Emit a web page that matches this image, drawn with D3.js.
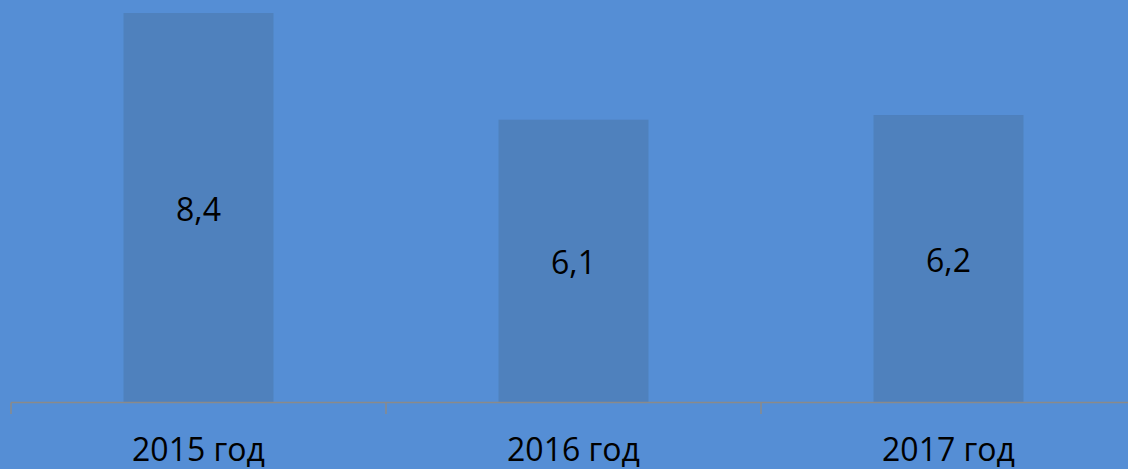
<!DOCTYPE html>
<html>
<head>
<meta charset="utf-8">
<script src="https://cdn.jsdelivr.net/npm/d3@7"></script>
<style>
  body { margin: 0; background: #558ed5; }
  svg { display: block; }
</style>
</head>
<body>
<div class="infographic"></div>
<script>
var categories = ["2015 год", "2016 год", "2017 год"];
var values = [8.4, 6.1, 6.2];
var labels = ["8,4", "6,1", "6,2"];

var width = 1128, height = 469;

var svg = d3.select(".infographic")
            .append("svg")
            .attr("width", width)
            .attr("height", height);

svg.append("rect")
    .attr("width", width)
    .attr("height", height)
    .attr("fill", "#558ed5");

var x = d3.scaleBand()
    .domain(categories)
    .range([11, 1136])
    .paddingInner(0.6)
    .paddingOuter(0.3);

var y = d3.scaleLinear()
    .domain([0, 8.4])
    .range([402.5, 13]);

var data = categories.map(function(c, i){
  return {cat: c, value: values[i], label: labels[i]};
});

svg.append("g")
    .attr("class", "bars")
  .selectAll("rect")
    .data(data)
  .enter().append("rect")
    .attr("x", function(d){ return x(d.cat); })
    .attr("y", function(d){ return y(d.value); })
    .attr("width", x.bandwidth())
    .attr("height", function(d){ return y(0) - y(d.value); })
    .attr("fill", "#4f81bd");

// value labels in the middle of each bar
svg.append("g")
  .selectAll("text")
    .data(data)
  .enter().append("text")
    .attr("x", function(d){ return x(d.cat) + x.bandwidth() / 2; })
    .attr("y", function(d){ return (y(d.value) + y(0)) / 2; })
    .attr("dy", "0.4em")
    .attr("text-anchor", "middle")
    .style("font-family", "'Open Sans', sans-serif")
    .style("font-size", "32px")
    .style("fill", "#000")
    .text(function(d){ return d.label; });

// category axis: line plus ticks at band boundaries
var axisY = 402.5;
var step = x.step();
var bounds = [0, 1, 2].map(function(i){ return 11 + i * step; });

svg.append("line")
    .attr("x1", 11).attr("x2", width)
    .attr("y1", axisY).attr("y2", axisY)
    .attr("stroke", "#8a8a8a")
    .attr("stroke-width", 1.5);

svg.append("g")
  .selectAll("line")
    .data(bounds)
  .enter().append("line")
    .attr("x1", function(d){ return Math.round(d); })
    .attr("x2", function(d){ return Math.round(d); })
    .attr("y1", axisY)
    .attr("y2", 414)
    .attr("stroke", "#8a8a8a")
    .attr("stroke-width", 1.5);

svg.append("g")
  .selectAll("text")
    .data(categories)
  .enter().append("text")
    .attr("x", function(d){ return x(d) + x.bandwidth() / 2; })
    .attr("y", 461)
    .attr("text-anchor", "middle")
    .style("font-family", "'Open Sans', sans-serif")
    .style("font-size", "32px")
    .style("fill", "#000")
    .text(function(d){ return d; });
</script>
</body>
</html>
